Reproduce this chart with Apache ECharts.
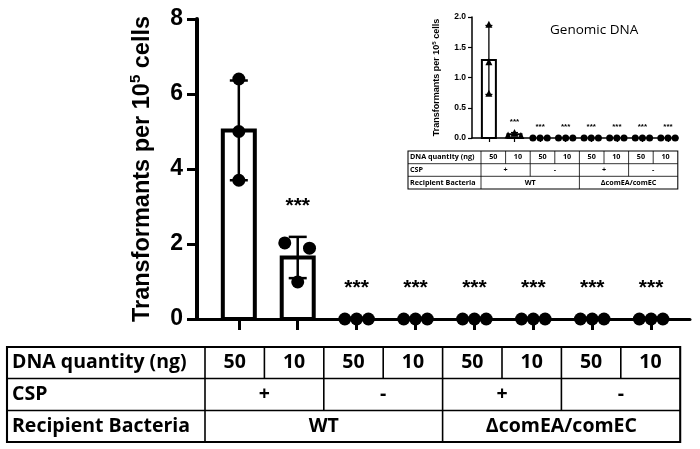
<!DOCTYPE html>
<html>
<head>
<meta charset="utf-8">
<script src="https://cdn.jsdelivr.net/npm/echarts@6/dist/echarts.min.js"></script>
<style>
  html, body { margin: 0; padding: 0; background: #fff; }
  #chart { width: 700px; height: 449px; }
</style>
</head>
<body>
<div id="chart"></div>
<script>
// groups along the x axis (one per table column)
var groups = [0, 1, 2, 3, 4, 5, 6, 7];
var rowLabels = ['DNA quantity (ng)', 'CSP', 'Recipient Bacteria'];
var dnaQuantity = ['50', '10', '50', '10', '50', '10', '50', '10'];
var cspRow = ['+', '-', '+', '-'];
var bacteriaRow = ['WT', '\u0394comEA/comEC'];

// main panel
var mainMeans = [5.03, 1.64, 0, 0, 0, 0, 0, 0];
var mainSD = [1.33, 0.55, 0, 0, 0, 0, 0, 0];
var mainPoints = [[6.4, 5.0, 3.7], [2.03, 1.89, 0.99], [0, 0, 0], [0, 0, 0], [0, 0, 0], [0, 0, 0], [0, 0, 0], [0, 0, 0]];
var mainJitter = [[0, 0, 0], [-0.22, 0.2, 0], [-0.2, 0, 0.2], [-0.2, 0, 0.2], [-0.2, 0, 0.2], [-0.2, 0, 0.2], [-0.2, 0, 0.2], [-0.2, 0, 0.2]];
var mainStars = ['', '***', '***', '***', '***', '***', '***', '***'];

// inset: genomic DNA
var insetMeans = [1.29, 0.06, 0, 0, 0, 0, 0, 0];
var insetSD = [0.57, 0.03, 0, 0, 0, 0, 0, 0];
var insetPoints = [[1.88, 1.26, 0.74], [0.09, 0.05, 0.04], [0, 0, 0], [0, 0, 0], [0, 0, 0], [0, 0, 0], [0, 0, 0], [0, 0, 0]];
var insetJitter = [[0, 0, 0], [0, -0.25, 0.25], [-0.28, 0, 0.28], [-0.28, 0, 0.28], [-0.28, 0, 0.28], [-0.28, 0, 0.28], [-0.28, 0, 0.28], [-0.28, 0, 0.28]];
var insetStars = ['', '***', '***', '***', '***', '***', '***', '***'];
var insetMarkers = ['triangle', 'triangle', 'circle', 'circle', 'circle', 'circle', 'circle', 'circle'];

var chart = echarts.init(document.getElementById('chart'));
var AR = 'Liberation Sans, Arial, sans-serif';
var TF = 'Open Sans, Lato, sans-serif';

function barSeries(idx, means, barW, lw) {
  return {
    type: 'custom', xAxisIndex: idx, yAxisIndex: idx, z: 2,
    data: groups.map(function (g) { return [g, means[g]]; }),
    renderItem: function (params, api) {
      var v = api.value(1);
      if (!v) return;
      var top = api.coord([api.value(0), v]);
      var base = api.coord([api.value(0), 0]);
      return {
        type: 'rect',
        shape: { x: top[0] - barW / 2, y: top[1], width: barW, height: base[1] - top[1] },
        style: { fill: '#fff', stroke: '#000', lineWidth: lw }
      };
    }
  };
}

function errSeries(idx, means, sd, stars, capW, lw, starFont, starGap) {
  return {
    type: 'custom', xAxisIndex: idx, yAxisIndex: idx, z: 3,
    data: groups.map(function (g) { return [g, means[g], sd[g]]; }),
    renderItem: function (params, api) {
      var x = api.value(0), m = api.value(1), s = api.value(2);
      var hi = api.coord([x, m + s]), lo = api.coord([x, Math.max(m - s, 0)]);
      var kids = [];
      if (s > 0) {
        var st = { stroke: '#000', lineWidth: lw };
        kids.push({ type: 'line', shape: { x1: hi[0], y1: hi[1], x2: lo[0], y2: lo[1] }, style: st });
        kids.push({ type: 'line', shape: { x1: hi[0] - capW / 2, y1: hi[1], x2: hi[0] + capW / 2, y2: hi[1] }, style: st });
        kids.push({ type: 'line', shape: { x1: lo[0] - capW / 2, y1: lo[1], x2: lo[0] + capW / 2, y2: lo[1] }, style: st });
      }
      var label = stars[params.dataIndex];
      if (label) {
        kids.push({
          type: 'text',
          style: { text: label, x: hi[0], y: hi[1] - starGap, align: 'center', verticalAlign: 'middle', font: starFont, fill: '#000' }
        });
      }
      return { type: 'group', children: kids };
    }
  };
}

function pointData(points, jitter, markers) {
  var out = [];
  groups.forEach(function (g) {
    points[g].forEach(function (v, k) {
      var d = { value: [g + jitter[g][k], v] };
      if (markers) d.symbol = markers[g];
      out.push(d);
    });
  });
  return out;
}

function yName(big, small) {
  return {
    a: { fontSize: big, fontWeight: 'bold', fontFamily: AR, color: '#000', lineHeight: big * 1.2 },
    s: { fontSize: small, fontWeight: 'bold', fontFamily: AR, color: '#000', lineHeight: small, verticalAlign: 'top' }
  };
}

// table drawn as graphic elements
function tableGraphics(colX, rowY, font, lw, pad) {
  var els = [];
  var L = colX[0], R = colX[colX.length - 1], T = rowY[0], B = rowY[3];
  var st = { stroke: '#000', lineWidth: lw };
  function line(x1, y1, x2, y2) { els.push({ type: 'line', shape: { x1: x1, y1: y1, x2: x2, y2: y2 }, style: st, silent: true }); }
  els.push({ type: 'rect', shape: { x: L, y: T, width: R - L, height: B - T }, style: { fill: 'none', stroke: '#000', lineWidth: lw * 1.3 } });
  line(L, rowY[1], R, rowY[1]);
  line(L, rowY[2], R, rowY[2]);
  line(colX[1], T, colX[1], B);
  for (var i = 2; i < colX.length - 1; i++) {
    line(colX[i], rowY[0], colX[i], rowY[1]);
    if (i % 2 === 1) line(colX[i], rowY[1], colX[i], rowY[2]);
    if (i === 5) line(colX[i], rowY[2], colX[i], rowY[3]);
  }
  function text(t, x, y, align) {
    els.push({ type: 'text', x: x, y: y, silent: true,
      style: { text: t, font: font, fill: '#000', align: align, verticalAlign: 'middle' } });
  }
  rowLabels.forEach(function (t, r) { text(t, L + pad, (rowY[r] + rowY[r + 1]) / 2, 'left'); });
  dnaQuantity.forEach(function (t, c) { text(t, (colX[c + 1] + colX[c + 2]) / 2, (rowY[0] + rowY[1]) / 2, 'center'); });
  cspRow.forEach(function (t, c) { text(t, (colX[2 * c + 1] + colX[2 * c + 3]) / 2, (rowY[1] + rowY[2]) / 2, 'center'); });
  bacteriaRow.forEach(function (t, c) { text(t, (colX[4 * c + 1] + colX[4 * c + 5]) / 2, (rowY[2] + rowY[3]) / 2, 'center'); });
  return els;
}

function cols(left, first, w) {
  var a = [left, first];
  for (var i = 1; i <= 8; i++) a.push(first + w * i);
  return a;
}

var option = {
  animation: false,
  backgroundColor: '#fff',
  grid: [
    { left: 197, right: 10, top: 19, bottom: 130 },
    { left: 472, right: 22, top: 17, bottom: 311 }
  ],
  xAxis: [
    {
      type: 'value', gridIndex: 0, min: -0.71, max: 7.66,
      axisLine: { onZero: false, lineStyle: { color: '#000', width: 3 } },
      axisTick: { show: true, customValues: groups, length: 11, lineStyle: { color: '#000', width: 3 } },
      axisLabel: { show: false }, splitLine: { show: false }
    },
    {
      type: 'value', gridIndex: 1, min: -0.66, max: 7.39,
      axisLine: { onZero: false, lineStyle: { color: '#000', width: 1.5 } },
      axisTick: { show: true, customValues: groups, length: 4, lineStyle: { color: '#000', width: 1.2 } },
      axisLabel: { show: false }, splitLine: { show: false }
    }
  ],
  yAxis: [
    {
      type: 'value', gridIndex: 0, min: 0, max: 8, interval: 2,
      name: '{a|Transformants per 10}{s|5}{a| cells}',
      nameLocation: 'middle', nameGap: 40,
      nameTextStyle: { rich: yName(23.5, 15) },
      axisLine: { show: true, onZero: false, lineStyle: { color: '#000', width: 4 } },
      axisTick: { show: true, length: 10, lineStyle: { color: '#000', width: 3 } },
      axisLabel: { fontSize: 23, fontWeight: 'bold', fontFamily: AR, color: '#000', margin: 14 },
      splitLine: { show: false }
    },
    {
      type: 'value', gridIndex: 1, min: 0, max: 2, interval: 0.5,
      name: '{a|Transformants per 10}{s|5}{a| cells}',
      nameLocation: 'middle', nameGap: 30,
      nameTextStyle: { rich: yName(9, 6) },
      axisLine: { show: true, onZero: false, lineStyle: { color: '#000', width: 1.5 } },
      axisTick: { show: true, length: 4, lineStyle: { color: '#000', width: 1.2 } },
      axisLabel: { fontSize: 8.5, fontWeight: 'bold', fontFamily: AR, color: '#000', margin: 6,
        formatter: function (v) { return v.toFixed(1); } },
      splitLine: { show: false }
    }
  ],
  series: [
    barSeries(0, mainMeans, 32, 4),
    errSeries(0, mainMeans, mainSD, mainStars, 18, 2.5, 'bold 21px ' + AR, 31),
    {
      type: 'scatter', xAxisIndex: 0, yAxisIndex: 0, z: 4, clip: false,
      symbol: 'circle', symbolSize: 13,
      itemStyle: { color: '#000', opacity: 1 },
      data: pointData(mainPoints, mainJitter)
    },
    barSeries(1, insetMeans, 14, 2),
    errSeries(1, insetMeans, insetSD, insetStars, 7, 1.3, 'bold 8px ' + AR, 11),
    {
      type: 'scatter', xAxisIndex: 1, yAxisIndex: 1, z: 4, clip: false,
      symbolSize: 7,
      itemStyle: { color: '#000', opacity: 1 },
      data: pointData(insetPoints, insetJitter, insetMarkers)
    }
  ],
  graphic: [
    { type: 'text', left: 550, top: 23,
      style: { text: 'Genomic DNA', font: '13.5px ' + TF, fill: '#000' } }
  ]
    .concat(tableGraphics(cols(7, 205, 59.4), [347, 378.5, 410.5, 442], 'bold 19.5px ' + TF, 1.6, 5))
    .concat(tableGraphics(cols(408, 481, 24.6), [151, 163.7, 176.3, 189], 'bold 7.2px ' + TF, 0.8, 2))
};

chart.setOption(option);
</script>
</body>
</html>
